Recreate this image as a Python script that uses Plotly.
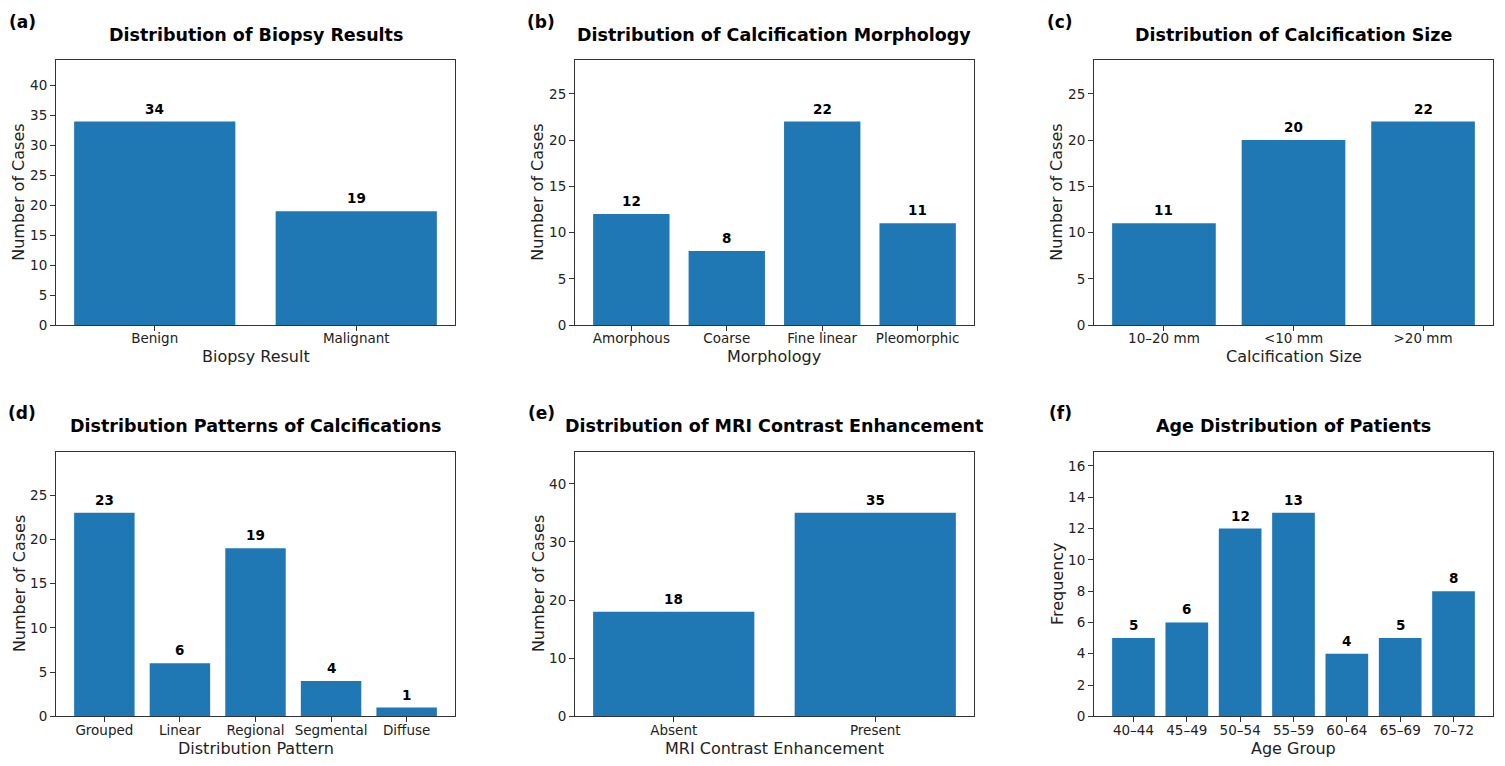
import plotly.graph_objects as go

# data
biopsy_cats = ['Benign', 'Malignant']
biopsy_vals = [34, 19]

morph_cats = ['Amorphous', 'Coarse', 'Fine linear', 'Pleomorphic']
morph_vals = [12, 8, 22, 11]

size_cats = ['10–20 mm', '<10 mm', '>20 mm']
size_vals = [11, 20, 22]

pattern_cats = ['Grouped', 'Linear', 'Regional', 'Segmental', 'Diffuse']
pattern_vals = [23, 6, 19, 4, 1]

mri_cats = ['Absent', 'Present']
mri_vals = [18, 35]

age_cats = ['40–44', '45–49', '50–54', '55–59', '60–64', '65–69', '70–72']
age_vals = [5, 6, 12, 13, 4, 5, 8]

# the page body has an 8px margin, so the figure is a bit smaller than the window
OFF = 8
W, H = 1505 - 2 * OFF, 750
# the shot comes out slightly squashed vertically, undo that
VS, VB = 0.991, -1.5
BLUE = '#1f77b4'
FONT = 'DejaVu Sans'
INK = '#222222'

# panel boxes in window pixels
cols = [56, 575, 1094]
rows = [59, 451]
PW, PH = 399, 265

panels = [
    ('(a)', 'Distribution of Biopsy Results', biopsy_cats, biopsy_vals, 'Biopsy Result', 'Number of Cases', 5),
    ('(b)', 'Distribution of Calcification Morphology', morph_cats, morph_vals, 'Morphology', 'Number of Cases', 5),
    ('(c)', 'Distribution of Calcification Size', size_cats, size_vals, 'Calcification Size', 'Number of Cases', 5),
    ('(d)', 'Distribution Patterns of Calcifications', pattern_cats, pattern_vals, 'Distribution Pattern', 'Number of Cases', 5),
    ('(e)', 'Distribution of MRI Contrast Enhancement', mri_cats, mri_vals, 'MRI Contrast Enhancement', 'Number of Cases', 10),
    ('(f)', 'Age Distribution of Patients', age_cats, age_vals, 'Age Group', 'Frequency', 2),
]


def px_x(x):
    return (x - OFF) / W


def px_y(y):
    y = (y - VB) / VS
    return 1 - (y - OFF) / H


fig = go.Figure()
annotations = []
layout_axes = {}


def label(x, y, text, size, color, **kw):
    annotations.append(dict(x=px_x(x), y=px_y(y), xref='paper', yref='paper', text=text,
                            showarrow=False, xanchor='center', yanchor='middle',
                            font=dict(family=FONT, size=size, color=color), **kw))


for i, (tag, title, cats, vals, xlab, ylab, dtick) in enumerate(panels):
    left = cols[i % 3]
    top = rows[i // 3]
    right = left + PW
    bottom = top + PH
    n = len(cats)
    suffix = '' if i == 0 else str(i + 1)
    xa, ya = 'x' + suffix, 'y' + suffix

    fig.add_trace(go.Bar(x=cats, y=vals, marker=dict(color=BLUE, line=dict(width=0)),
                         xaxis=xa, yaxis=ya, showlegend=False, hoverinfo='x+y'))

    # matplotlib-like limits: 5% x margin, y up to 1.3 * max
    span = (n - 1) + 0.8
    xr = [-0.4 - 0.05 * span, n - 1 + 0.4 + 0.05 * span]
    yr = [0, max(vals) * 1.3]

    common = dict(showline=True, linecolor='#333333', linewidth=1, mirror=True,
                  ticks='outside', ticklen=5, tickcolor='#333333', showgrid=False,
                  zeroline=False, tickfont=dict(family=FONT, size=13.5, color=INK))
    layout_axes['xaxis' + suffix] = dict(common, domain=[px_x(left), px_x(right)], range=xr,
                                         anchor=ya, type='category', fixedrange=True,
                                         ticklabelstandoff=-4)
    layout_axes['yaxis' + suffix] = dict(common, domain=[px_y(bottom), px_y(top)], range=yr,
                                         anchor=xa, dtick=dtick, tick0=0, fixedrange=True)

    # value labels above bars
    for c, v in zip(cats, vals):
        annotations.append(dict(x=c, y=v, xref=xa, yref=ya, text='<b>%d</b>' % v,
                                showarrow=False, yanchor='bottom', yshift=3,
                                font=dict(family=FONT, size=13.5, color='black')))

    # subplot title, panel tag, axis titles
    label((left + right) / 2, top - 26, '<b>%s</b>' % title, 17.5, 'black')
    label(left - 34, top - 39, '<b>%s</b>' % tag, 17, 'black')
    label((left + right) / 2, bottom + 32, xlab, 16, INK)
    label(left - 37, (top + bottom) / 2, ylab, 16, INK, textangle=-90)

fig.update_layout(
    width=W, height=H,
    margin=dict(l=0, r=0, t=0, b=0),
    plot_bgcolor='white', paper_bgcolor='white',
    bargap=0.2,
    annotations=annotations,
    **layout_axes
)

fig.write_html("out.html")
